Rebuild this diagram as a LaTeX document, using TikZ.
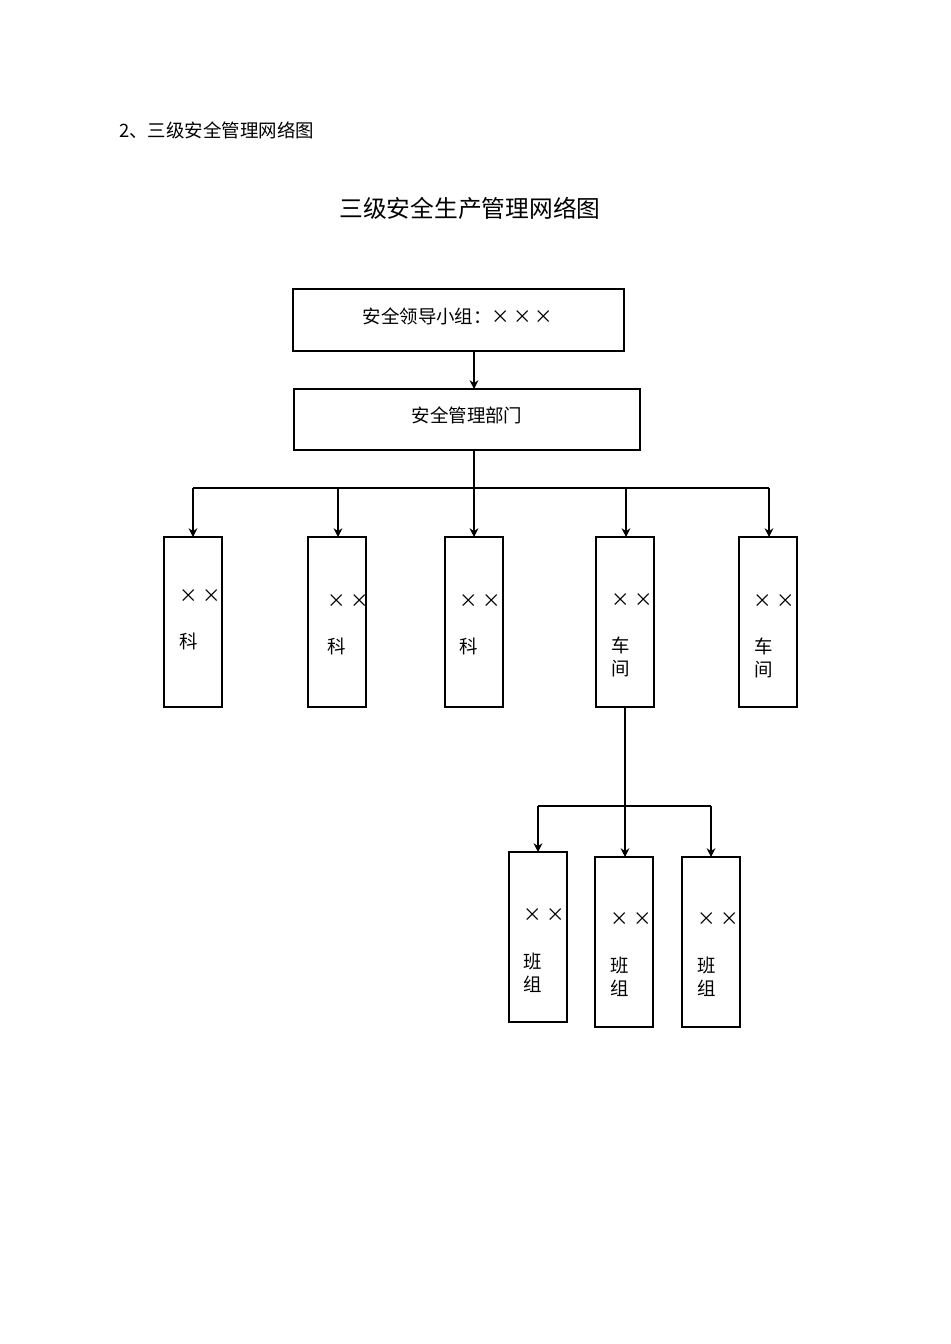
\documentclass[tikz,border=0pt]{standalone}
\usepackage{fontspec}
\setmainfont{Noto Sans CJK SC}
\usetikzlibrary{arrows.meta}
\begin{document}
\begin{tikzpicture}[x=0.02cm,y=-0.02cm,
  box/.style={draw,line width=0.6pt,inner sep=0pt},
  arr/.style={line width=0.6pt,-{Stealth[length=5pt,width=5pt]}},
  ln/.style={line width=0.6pt},
  txt/.style={font=\fontsize{10.5pt}{13pt}\selectfont,align=center}]
\useasboundingbox (0,0) rectangle (950,1344);
\node[anchor=west,font=\fontsize{10.5pt}{13pt}\selectfont] (h) at (113,130) {2、三级安全管理网络图};
\node[font=\fontsize{13.5pt}{16pt}\selectfont] (t) at (470,208) {三级安全生产管理网络图};
\draw[box] (293,289) rectangle (624,351);
\node[txt] (a) at (458,316) {安全领导小组：×\,×\,×};
\coordinate (ab) at (474,351);
\draw[box] (294,389) rectangle (640,450);
\node[txt] (b) at (467,415) {安全管理部门};
\coordinate (bt) at (474,389);
\coordinate (bb) at (474,450);
\draw[arr] (ab) -- (bt);
\coordinate (j) at (474,488);
\draw[ln] (bb) -- (j);
\draw[ln] (193,488) -- (769,488);
\foreach \x/\l/\r/\n in {193/164/222/1,338/308/366/2,474/445/503/3,626/596/654/4,769/739/797/5}{
  \draw[box] (\l,537) rectangle (\r,707);
  \coordinate (top\n) at (\x,537);
  \draw[arr] (\x,488) -- (top\n);
}
\node[txt] (k1) at (200,596) {× ×};
\node[txt] (k1b) at (189,641) {科};
\node[txt] (k2) at (348,601) {× ×};
\node[txt] (k2b) at (337,646) {科};
\node[txt] (k3) at (480,601) {× ×};
\node[txt] (k3b) at (469,646) {科};
\node[txt] (k4) at (632,600) {× ×};
\node[txt] (k4b) at (621,657) {车\\间};
\node[txt] (k5) at (774,601) {× ×};
\node[txt] (k5b) at (764,658) {车\\间};
\coordinate (w) at (625,707);
\coordinate (j2) at (625,806);
\draw[ln] (w) -- (j2);
\draw[ln] (538,806) -- (711,806);
\draw[box] (509,852) rectangle (567,1022);
\draw[box] (595,857) rectangle (653,1027);
\draw[box] (682,857) rectangle (740,1027);
\coordinate (g1) at (538,852);
\coordinate (g2) at (625,857);
\coordinate (g3) at (711,857);
\draw[arr] (538,806) -- (g1);
\draw[arr] (j2) -- (g2);
\draw[arr] (711,806) -- (g3);
\node[txt] (b1) at (544,915) {× ×};
\node[txt] (b1b) at (533,973) {班\\组};
\node[txt] (b2) at (631,919) {× ×};
\node[txt] (b2b) at (620,977) {班\\组};
\node[txt] (b3) at (718,919) {× ×};
\node[txt] (b3b) at (707,977) {班\\组};
\end{tikzpicture}
\end{document}
